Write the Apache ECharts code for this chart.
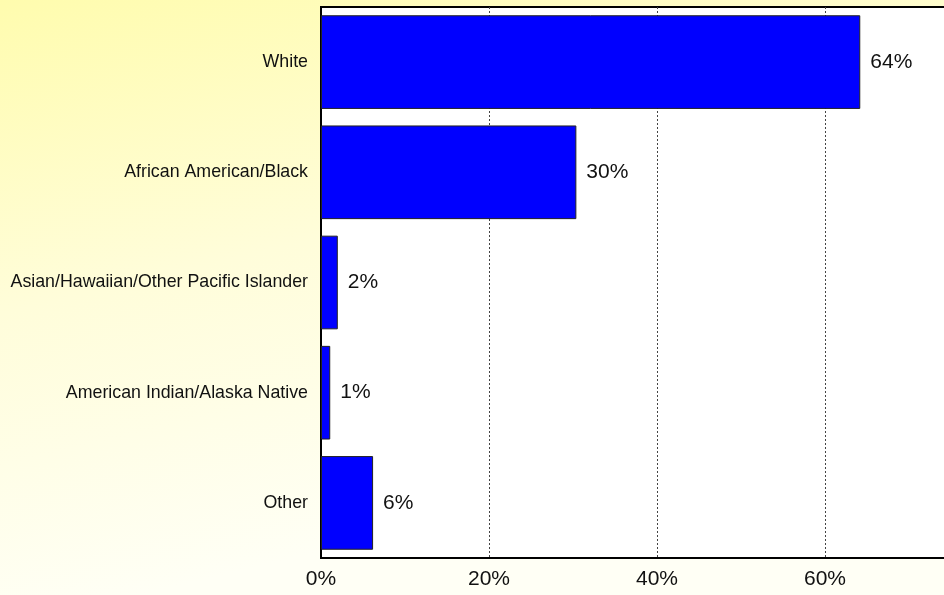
<!DOCTYPE html>
<html>
<head>
<meta charset="utf-8">
<script src="https://cdn.jsdelivr.net/npm/echarts@6/dist/echarts.min.js"></script>
<style>html,body{margin:0;padding:0;}#c{width:944px;height:595px;}</style>
</head>
<body>
<div id="c"></div>
<script>
var categories = ["White", "African American/Black", "Asian/Hawaiian/Other Pacific Islander", "American Indian/Alaska Native", "Other"];
var values = [64.2, 30.4, 2.0, 1.1, 6.2];
var valueLabels = ["64%", "30%", "2%", "1%", "6%"];
var xTicks = [0, 20, 40, 60, 80];

var chart = echarts.init(document.getElementById('c'));
chart.setOption({
  animation: false,
  backgroundColor: {
    type: 'linear', x: 0, y: 0, x2: 0.15, y2: 1,
    colorStops: [
      {offset: 0, color: '#FFFCAE'},
      {offset: 0.5, color: '#FFFDDA'},
      {offset: 1, color: '#FFFFF5'}
    ]
  },
  textStyle: {fontFamily: 'Liberation Sans, Arial, sans-serif'},
  grid: {
    left: 321, top: 7, height: 551, width: 672,
    outerBoundsMode: 'none',
    show: true, backgroundColor: '#ffffff', borderColor: '#000', borderWidth: 2,
    containLabel: false
  },
  xAxis: {
    type: 'value', min: xTicks[0], max: xTicks[xTicks.length - 1], interval: 20,
    axisLine: {show: true, lineStyle: {color: '#000', width: 2}},
    axisTick: {show: false},
    axisLabel: {color: '#111', fontSize: 21, margin: 11, formatter: function (v) { return v + '%'; }},
    splitLine: {show: true, lineStyle: {color: '#444', type: [2, 2], width: 1}}
  },
  yAxis: {
    type: 'category', data: categories, inverse: true,
    axisLine: {show: true, lineStyle: {color: '#000', width: 2}},
    axisTick: {show: false},
    axisLabel: {color: '#111', fontSize: 17.8, margin: 13}
  },
  series: [{
    type: 'bar',
    data: values,
    barWidth: '85%',
    itemStyle: {color: '#0000FF', borderColor: '#222', borderWidth: 1},
    label: {
      show: true, position: 'right', distance: 10, color: '#111', fontSize: 21,
      formatter: function (p) { return valueLabels[p.dataIndex]; }
    }
  }]
});
</script>
</body>
</html>
